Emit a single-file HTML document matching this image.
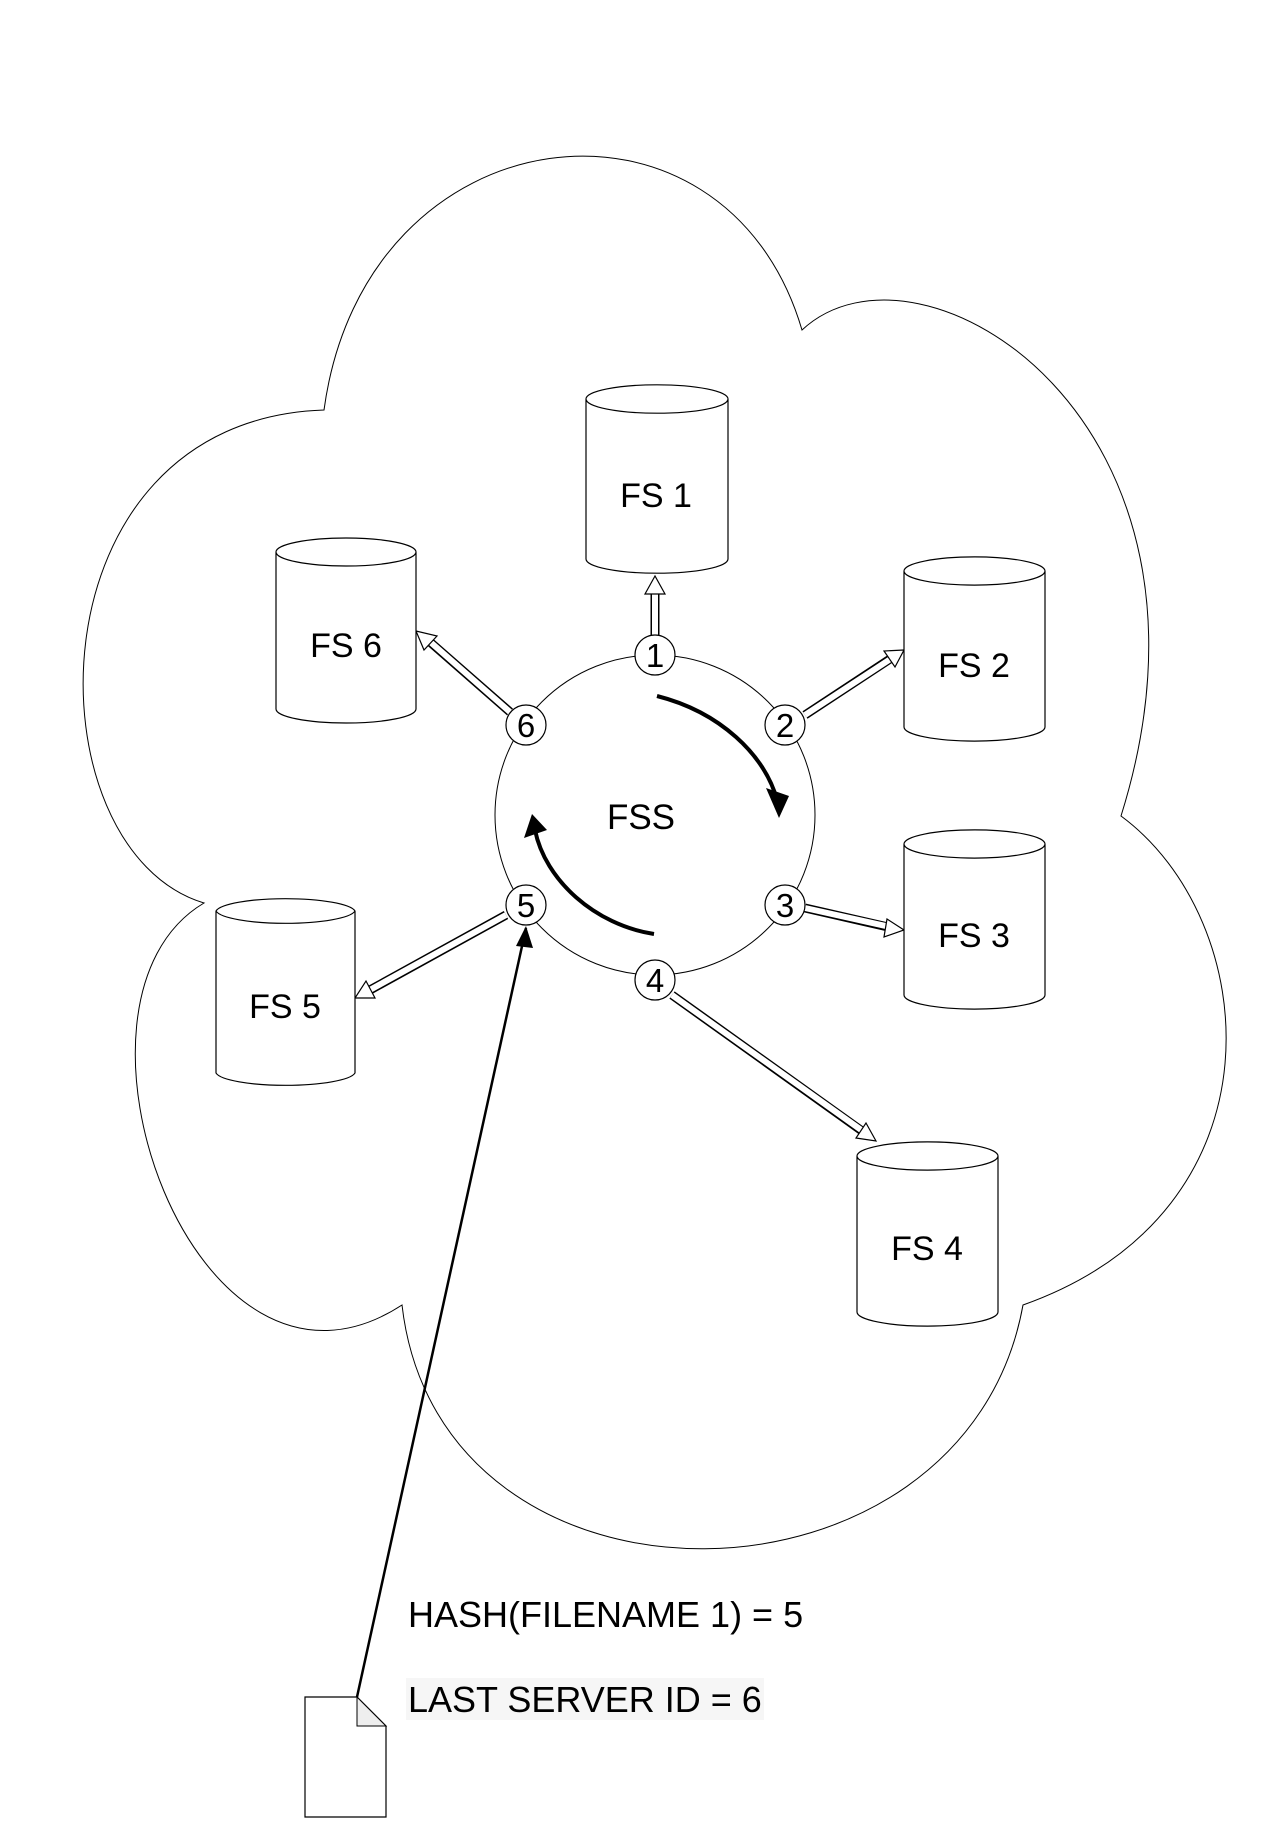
<!DOCTYPE html>
<html><head><meta charset="utf-8"><style>
html,body{margin:0;padding:0;background:#fff;}
svg{display:block;}
text{font-family:"Liberation Sans",Arial,sans-serif;fill:#000;}
</style></head><body>
<svg width="1282" height="1822" viewBox="0 0 1282 1822" xmlns="http://www.w3.org/2000/svg">
<!-- cloud -->
<path d="M324,410 C365,108 725,68 802,330 C920,220 1245,420 1121,816 C1262,920 1290,1210 1023,1305 C965,1625 440,1635 402,1305 C195,1440 40,1000 204,903 C28,850 25,420 324,410 Z" fill="#fff" stroke="#000" stroke-width="1"/>

<!-- hollow connectors -->
<g stroke-linecap="butt">
<g stroke="#000" stroke-width="9" fill="none">
<line x1="655" y1="635" x2="655" y2="592"/>
<line x1="805" y1="715" x2="890" y2="659"/>
<line x1="805" y1="908" x2="888" y2="927"/>
<line x1="672" y1="995" x2="862" y2="1131"/>
<line x1="506" y1="915" x2="370" y2="990"/>
<line x1="510" y1="712" x2="430" y2="642"/>
</g>
<g stroke="#fff" stroke-width="6" fill="none">
<line x1="655" y1="635" x2="655" y2="590"/>
<line x1="805" y1="715" x2="892" y2="658"/>
<line x1="805" y1="908" x2="890" y2="927"/>
<line x1="672" y1="995" x2="864" y2="1132"/>
<line x1="506" y1="915" x2="368" y2="991"/>
<line x1="510" y1="712" x2="428" y2="640"/>
</g>
<g fill="#fff" stroke="#000" stroke-width="1.2">
<polygon points="655,576 645,594 665,594"/>
<polygon points="904,650 884,651 895,667"/>
<polygon points="904,930 887,919 884,937"/>
<polygon points="876,1141 866,1123 856,1138"/>
<polygon points="355,998 375,998 366,981"/>
<polygon points="416,631 424,650 437,636"/>
</g>
</g>

<!-- FSS circle -->
<circle cx="655" cy="815" r="160" fill="#fff" stroke="#000" stroke-width="1"/>
<text x="641" y="829" font-size="35" text-anchor="middle">FSS</text>

<!-- curved arrows -->
<path d="M657,696 C720,712 765,755 777,800" fill="none" stroke="#000" stroke-width="4"/>
<polygon points="779,818 766,788 789,796" fill="#000"/>
<path d="M654,934 C595,925 545,880 535,830" fill="none" stroke="#000" stroke-width="4"/>
<polygon points="532,814 524,838 547,830" fill="#000"/>

<!-- nodes -->
<g fill="#fff" stroke="#000" stroke-width="1.2">
<circle cx="655" cy="655" r="20"/>
<circle cx="785" cy="725" r="20"/>
<circle cx="785" cy="905" r="20"/>
<circle cx="655" cy="980" r="20"/>
<circle cx="526" cy="905" r="20"/>
<circle cx="526" cy="725" r="20"/>
</g>
<g font-size="33" text-anchor="middle">
<text x="655" y="667">1</text>
<text x="785" y="737">2</text>
<text x="785" y="917">3</text>
<text x="655" y="992">4</text>
<text x="526" y="917">5</text>
<text x="526" y="737">6</text>
</g>

<!-- cylinders -->
<g fill="#fff" stroke="#000" stroke-width="1.2">
<path d="M586,399 L586,559 A70,14 0 0 0 728,559 L728,399 A70,14 0 0 0 586,399 A70,14 0 0 0 728,399"/>
<path d="M904,571 L904,727 A70,14 0 0 0 1045,727 L1045,571 A70,14 0 0 0 904,571 A70,14 0 0 0 1045,571"/>
<path d="M904,844 L904,995 A70,14 0 0 0 1045,995 L1045,844 A70,14 0 0 0 904,844 A70,14 0 0 0 1045,844"/>
<path d="M857,1156 L857,1312 A70,14 0 0 0 998,1312 L998,1156 A70,14 0 0 0 857,1156 A70,14 0 0 0 998,1156"/>
<path d="M216,911 L216,1073 A70,14 0 0 0 355,1073 L355,911 A70,14 0 0 0 216,911 A70,14 0 0 0 355,911"/>
<path d="M276,552 L276,709 A70,14 0 0 0 416,709 L416,552 A70,14 0 0 0 276,552 A70,14 0 0 0 416,552"/>
</g>
<g font-size="34" text-anchor="middle">
<text x="656" y="507">FS 1</text>
<text x="974" y="677">FS 2</text>
<text x="974" y="947">FS 3</text>
<text x="927" y="1260">FS 4</text>
<text x="285" y="1018">FS 5</text>
<text x="346" y="657">FS 6</text>
</g>

<!-- document -->
<line x1="357" y1="1697" x2="526" y2="928" stroke="#000" stroke-width="2.5"/>
<polygon points="526,926 516,946 533,948" fill="#000"/>
<path d="M305,1697 L357,1697 L386,1726 L386,1817 L305,1817 Z" fill="#fff" stroke="#000" stroke-width="1.2"/>
<path d="M357,1697 L357,1726 L386,1726 Z" fill="#eee" stroke="#000" stroke-width="1"/>

<rect x="406" y="1678" width="358" height="42" fill="#f6f6f6"/>
<text x="408" y="1627" font-size="36">HASH(FILENAME 1) = 5</text>
<text x="408" y="1712" font-size="36">LAST SERVER ID = 6</text>
</svg>
</body></html>
